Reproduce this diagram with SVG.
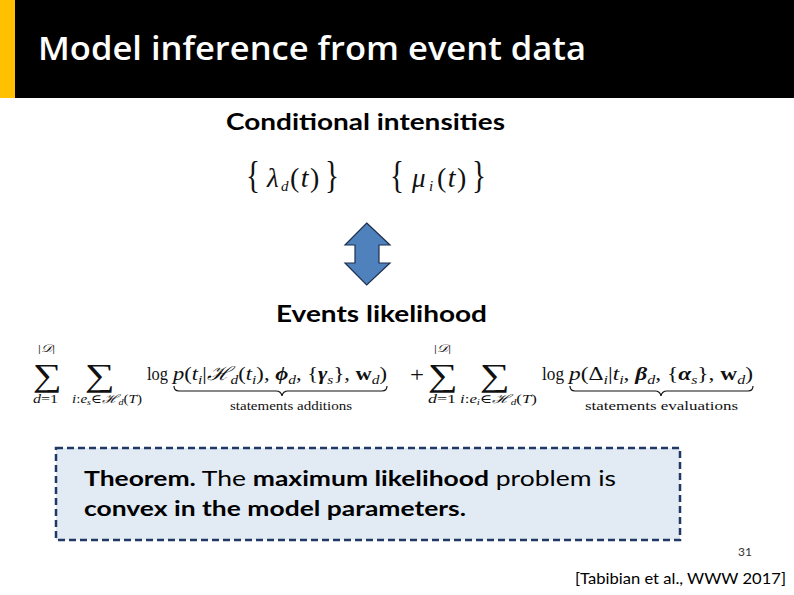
<svg xmlns="http://www.w3.org/2000/svg" width="794" height="595" viewBox="0 0 794 595">
<style>
.cal{font-family:Lato,"Open Sans","Liberation Sans",sans-serif}
.b{font-weight:bold}
.m{font-family:"Liberation Serif","DejaVu Serif",serif;fill:#111}
.i{font-style:italic}
.bs{font-family:"Liberation Serif","DejaVu Serif",serif;fill:#111;font-size:12px}
.ub{fill:none;stroke:#111;stroke-width:1.2}
</style>
<rect x="0" y="0" width="794" height="595" fill="#ffffff"/>
<g id="header">
<rect x="0" y="0" width="794" height="98" fill="#000000"/>
<rect x="0" y="0" width="15" height="98" fill="#ffc000"/>
<text x="38" y="60" font-family="'Open Sans',Lato,sans-serif" font-size="32" font-weight="600" fill="#ffffff" textLength="548" lengthAdjust="spacingAndGlyphs">Model inference from event data</text>
</g>
<g id="cond">
<text class="cal b" x="226" y="130" font-size="22" fill="#000" textLength="279" lengthAdjust="spacingAndGlyphs">Conditional intensities</text>
<text class="m" x="246" y="188" font-size="38" textLength="14" lengthAdjust="spacingAndGlyphs">{</text>
<text class="m i" x="267" y="187" font-size="27">λ</text>
<text class="m i" x="281" y="191" font-size="15">d</text>
<text class="m" x="290" y="187" font-size="28" letter-spacing="1.5">(<tspan class="i">t</tspan>)</text>
<text class="m" x="325" y="188" font-size="38" textLength="14" lengthAdjust="spacingAndGlyphs">}</text>
<text class="m" x="390" y="188" font-size="38" textLength="14" lengthAdjust="spacingAndGlyphs">{</text>
<text class="m i" x="412" y="187" font-size="27">μ</text>
<text class="m i" x="429" y="191" font-size="15">i</text>
<text class="m" x="437" y="187" font-size="28" letter-spacing="1.5">(<tspan class="i">t</tspan>)</text>
<text class="m" x="472" y="188" font-size="38" textLength="14" lengthAdjust="spacingAndGlyphs">}</text>
</g>
<g id="arrow">
<polygon points="366.7,223 390,245 379,245 379,263 390,263 366.7,285 345,263 355,263 355,245 345,245" fill="#4f81bd" stroke="#1f2f4f" stroke-width="1.2"/>
</g>
<g id="events">
<text class="cal b" x="276" y="322" font-size="22" fill="#000" textLength="211" lengthAdjust="spacingAndGlyphs">Events likelihood</text>
</g>
<g id="formula">
<!-- left term -->
<text class="m" x="38" y="352" font-size="11" textLength="17" lengthAdjust="spacingAndGlyphs">|<tspan class="i">𝒟</tspan>|</text>
<text class="m" x="33" y="386" font-size="32" textLength="29" lengthAdjust="spacingAndGlyphs">∑</text>
<text class="m i" x="33" y="403" font-size="12" textLength="25" lengthAdjust="spacingAndGlyphs">d<tspan font-style="normal">=1</tspan></text>
<text class="m" x="85" y="386" font-size="32" textLength="30" lengthAdjust="spacingAndGlyphs">∑</text>
<text class="m i" x="72" y="403" font-size="12" textLength="70" lengthAdjust="spacingAndGlyphs">i<tspan font-style="normal">:</tspan>e<tspan font-size="8" dy="2">s</tspan><tspan font-style="normal" dy="-2">∈</tspan>ℋ<tspan font-size="8" dy="2">d</tspan><tspan font-style="normal" dy="-2">(</tspan>T<tspan font-style="normal">)</tspan></text>
<text class="m" x="147" y="380" font-size="19" textLength="21" lengthAdjust="spacingAndGlyphs">log</text>
<text class="m" x="173" y="380" font-size="19" textLength="214" lengthAdjust="spacingAndGlyphs"><tspan class="i">p</tspan>(<tspan class="i">t</tspan><tspan class="i" font-size="13" dy="4">i</tspan><tspan dy="-4">|</tspan><tspan class="i">ℋ</tspan><tspan class="i" font-size="13" dy="4">d</tspan><tspan dy="-4">(</tspan><tspan class="i">t</tspan><tspan class="i" font-size="13" dy="4">i</tspan><tspan dy="-4">), </tspan><tspan class="i" font-weight="bold">ϕ</tspan><tspan class="i" font-size="13" dy="4">d</tspan><tspan dy="-4">, {</tspan><tspan class="i" font-weight="bold">γ</tspan><tspan class="i" font-size="13" dy="4">s</tspan><tspan dy="-4">}, </tspan><tspan font-weight="bold">w</tspan><tspan class="i" font-size="13" dy="4">d</tspan><tspan dy="-4">)</tspan></text>
<path class="ub" d="M174,386 q0,5 5,5 H276 q5,0 6,5 q1,-5 6,-5 H382 q5,0 5,-5"/>
<text class="bs" x="230" y="410" textLength="122" lengthAdjust="spacingAndGlyphs">statements additions</text>
<!-- right term -->
<text class="m" x="410" y="382" font-size="20" textLength="14" lengthAdjust="spacingAndGlyphs">+</text>
<text class="m" x="434" y="352" font-size="11" textLength="17" lengthAdjust="spacingAndGlyphs">|<tspan class="i">𝒟</tspan>|</text>
<text class="m" x="428" y="386" font-size="32" textLength="30" lengthAdjust="spacingAndGlyphs">∑</text>
<text class="m i" x="428" y="403" font-size="12" textLength="28" lengthAdjust="spacingAndGlyphs">d<tspan font-style="normal">=1</tspan></text>
<text class="m" x="480" y="386" font-size="32" textLength="30" lengthAdjust="spacingAndGlyphs">∑</text>
<text class="m i" x="460" y="403" font-size="12" textLength="77" lengthAdjust="spacingAndGlyphs">i<tspan font-style="normal">:</tspan>e<tspan font-size="8" dy="2">i</tspan><tspan font-style="normal" dy="-2">∈</tspan>ℋ<tspan font-size="8" dy="2">d</tspan><tspan font-style="normal" dy="-2">(</tspan>T<tspan font-style="normal">)</tspan></text>
<text class="m" x="542" y="380" font-size="19" textLength="22" lengthAdjust="spacingAndGlyphs">log</text>
<text class="m" x="569" y="380" font-size="19" textLength="184" lengthAdjust="spacingAndGlyphs"><tspan class="i">p</tspan>(Δ<tspan class="i" font-size="13" dy="4">i</tspan><tspan dy="-4">|</tspan><tspan class="i">t</tspan><tspan class="i" font-size="13" dy="4">i</tspan><tspan dy="-4">, </tspan><tspan class="i" font-weight="bold">β</tspan><tspan class="i" font-size="13" dy="4">d</tspan><tspan dy="-4">, {</tspan><tspan class="i" font-weight="bold">α</tspan><tspan class="i" font-size="13" dy="4">s</tspan><tspan dy="-4">}, </tspan><tspan font-weight="bold">w</tspan><tspan class="i" font-size="13" dy="4">d</tspan><tspan dy="-4">)</tspan></text>
<path class="ub" d="M570,386 q0,5 5,5 H655 q5,0 6,5 q1,-5 6,-5 H748 q5,0 5,-5"/>
<text class="bs" x="585" y="410" textLength="153" lengthAdjust="spacingAndGlyphs">statements evaluations</text>
</g>
<g id="theorem">
<rect x="56" y="448" width="624" height="92" fill="#e2eaf4" stroke="#1f3864" stroke-width="2.5" stroke-dasharray="7,4"/>
<text class="cal" x="84" y="486" font-size="21.5" fill="#000" textLength="532" lengthAdjust="spacingAndGlyphs"><tspan font-weight="bold">Theorem.</tspan> The <tspan font-weight="bold">maximum likelihood</tspan> problem is</text>
<text class="cal b" x="84" y="516" font-size="21.5" fill="#000" textLength="382" lengthAdjust="spacingAndGlyphs">convex in the model parameters.</text>
</g>
<g id="footer">
<text class="cal" x="752" y="556" font-size="12" fill="#333" text-anchor="end">31</text>
<text class="cal" x="575" y="584" font-size="16" fill="#000" textLength="211" lengthAdjust="spacingAndGlyphs">[Tabibian et al., WWW 2017]</text>
</g>
</svg>
